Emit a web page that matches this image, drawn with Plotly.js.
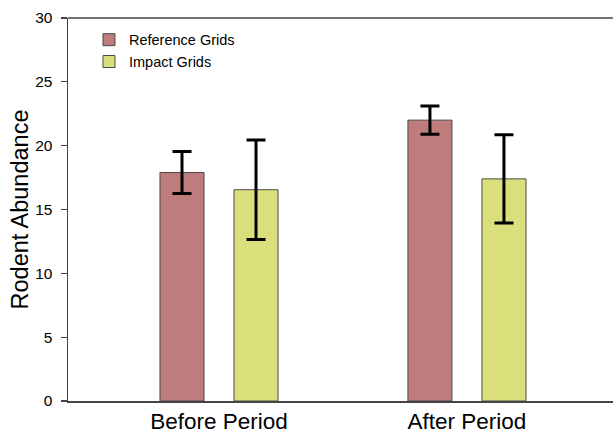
<!DOCTYPE html>
<html><head><meta charset="utf-8">
<script src="https://cdn.plot.ly/plotly-3.0.1.min.js"></script>
<style>html,body{margin:0;padding:0;background:#fff;overflow:hidden}</style>
</head><body>
<div id="chart" style="width:613px;height:433px"></div>
<script>
const categories = ["Before Period", "After Period"];
const referenceMeans = [17.9, 22.0];
const referenceErr = [1.65, 1.1];
const impactMeans = [16.55, 17.4];
const impactErr = [3.9, 3.45];
const yTicks = [0, 5, 10, 15, 20, 25, 30];

const font = "Liberation Sans, Arial, sans-serif";
const traces = [
  {type: "bar", name: "Reference Grids", x: categories, y: referenceMeans,
   marker: {color: "#bf7c7c", line: {color: "#4a4a4a", width: 1}},
   error_y: {type: "data", array: referenceErr, visible: true, color: "#000", thickness: 3, width: 9.5}},
  {type: "bar", name: "Impact Grids", x: categories, y: impactMeans,
   marker: {color: "#dbdf7b", line: {color: "#4a4a4a", width: 1}},
   error_y: {type: "data", array: impactErr, visible: true, color: "#000", thickness: 3, width: 9.5}}
];
const layout = {
  width: 613, height: 433,
  margin: {l: 68, r: 0, t: 18, b: 32},
  paper_bgcolor: "#fff", plot_bgcolor: "#fff",
  font: {family: font, color: "#000"},
  barmode: "group", bargap: 0.403, bargroupgap: 0.405,
  showlegend: true,
  legend: {x: 0.0385, y: 0.985, xanchor: "left", yanchor: "top", bgcolor: "rgba(0,0,0,0)",
           font: {family: font, size: 14.5, color: "#000"}, tracegroupgap: 0},
  xaxis: {type: "category", range: [-0.609, 1.589], showline: true, linecolor: "#444", linewidth: 1.5,
          mirror: false, ticks: "", showgrid: false, zeroline: false, ticklabelstandoff: -1,
          tickfont: {family: font, size: 22.5, color: "#000"}},
  yaxis: {range: [0, 30], tickvals: yTicks, showline: true, linecolor: "#444", linewidth: 1.5,
          ticks: "outside", ticklen: 6, tickwidth: 1.2, tickcolor: "#444", showgrid: false, zeroline: false,
          tickfont: {family: font, size: 15.5, color: "#000"}, ticklabelstandoff: 5,
          title: {text: "Rodent Abundance", font: {family: font, size: 23.5, color: "#000"}, standoff: 0}},
  shapes: [{type: "line", xref: "paper", yref: "paper", x0: 0, x1: 1, y0: 1, y1: 1,
            line: {color: "#444", width: 1.5}}]
};
Plotly.newPlot("chart", traces, layout, {displayModeBar: false, staticPlot: true});
</script>
</body></html>
